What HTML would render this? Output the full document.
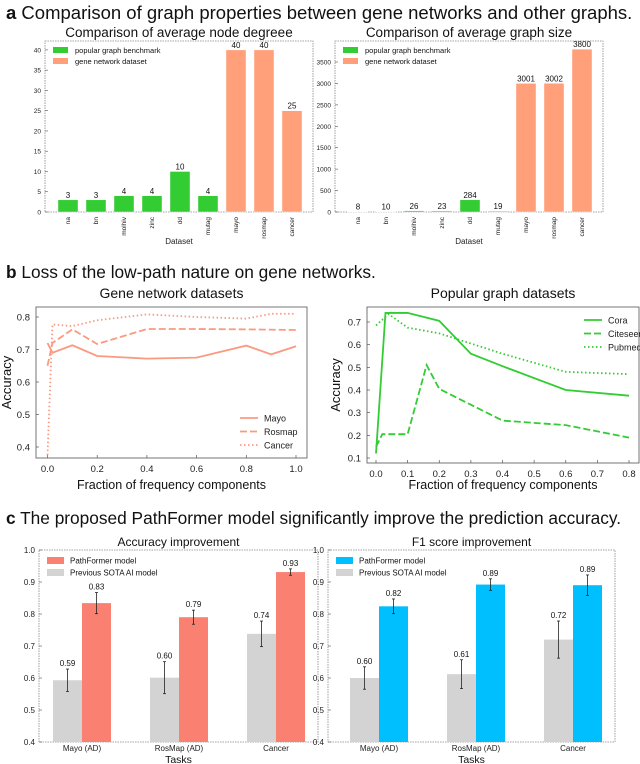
<!DOCTYPE html>
<html><head><meta charset="utf-8"><style>
body{margin:0;background:#fff}
svg{display:block;font-family:"Liberation Sans",sans-serif}
</style></head><body>
<svg id="s" width="640" height="764" viewBox="0 0 640 764">
<text x="6" y="19" font-size="18.5" fill="#111"><tspan font-weight="bold">a</tspan> Comparison of graph properties between gene networks and other graphs.</text>
<text x="6" y="278" font-size="17.3" fill="#111"><tspan font-weight="bold">b</tspan> Loss of the low-path nature on gene networks.</text>
<text x="6" y="524" font-size="17.3" fill="#111"><tspan font-weight="bold">c</tspan> The proposed PathFormer model significantly improve the prediction accuracy.</text>
</svg>
<script>
// Panel a data
const aCats=["na","bn","molhiv","zinc","dd","mutag","mayo","rosmap","cancer"];
const aDegree=[3,3,4,4,10,4,40,40,25];
const aDegreeLabels=["3","3","4","4","10","4","40","40","25"];
const aSize=[8,10,26,23,284,19,3001,3002,3800];
const aSizeLabels=["8","10","26","23","284","19","3001","3002","3800"];
const aDegTicks=[0,5,10,15,20,25,30,35,40];
const aSizeTicks=[0,500,1000,1500,2000,2500,3000,3500];
// Panel b data
const bGeneX=[0,0.2,0.4,0.6,0.8,1.0];
const bGeneY=[0.4,0.5,0.6,0.7,0.8];
const mayoX=[0,0.02,0.1,0.2,0.4,0.6,0.8,0.9,1.0];
const mayoY=[0.72,0.69,0.713,0.68,0.672,0.675,0.712,0.685,0.71];
const rosmapX=[0,0.02,0.1,0.2,0.4,0.6,0.8,1.0];
const rosmapY=[0.65,0.72,0.762,0.717,0.763,0.763,0.762,0.76];
const cancerX=[0,0.02,0.1,0.2,0.4,0.6,0.8,0.9,1.0];
const cancerY=[0.375,0.777,0.772,0.79,0.808,0.8,0.795,0.81,0.81];
const bPopX=[0,0.1,0.2,0.3,0.4,0.5,0.6,0.7,0.8];
const bPopY=[0.1,0.2,0.3,0.4,0.5,0.6,0.7];
const coraX=[0,0.03,0.1,0.2,0.3,0.4,0.6,0.8];
const coraY=[0.12,0.74,0.74,0.705,0.56,0.505,0.4,0.375];
const citeX=[0,0.02,0.1,0.16,0.2,0.3,0.4,0.6,0.8];
const citeY=[0.15,0.205,0.205,0.51,0.405,0.335,0.265,0.245,0.19];
const pubX=[0,0.04,0.1,0.2,0.3,0.4,0.6,0.8];
const pubY=[0.685,0.735,0.675,0.65,0.605,0.56,0.48,0.47];
// Panel c data
const cTasks=["Mayo (AD)","RosMap (AD)","Cancer"];
const accPrev=[0.593,0.601,0.738];
const accPrevErr=[0.035,0.05,0.04];
const accNew=[0.834,0.79,0.931];
const accNewErr=[0.033,0.022,0.01];
const accPrevLbl=["0.59","0.60","0.74"];
const accNewLbl=["0.83","0.79","0.93"];
const f1Prev=[0.60,0.612,0.72];
const f1PrevErr=[0.035,0.045,0.058];
const f1New=[0.824,0.892,0.89];
const f1NewErr=[0.023,0.018,0.032];
const f1PrevLbl=["0.60","0.61","0.72"];
const f1NewLbl=["0.82","0.89","0.89"];
const cTicks=[0.4,0.5,0.6,0.7,0.8,0.9,1.0];

const S=document.getElementById('s');
const NS="http://www.w3.org/2000/svg";
function mk(tag,at,txt){const e=document.createElementNS(NS,tag);for(const k in at)e.setAttribute(k,at[k]);if(txt!==undefined)e.textContent=txt;S.appendChild(e);return e;}
function lin(d0,d1,r0,r1){return v=>r0+(v-d0)*(r1-r0)/(d1-d0);}

// ---------- Panel a ----------
function barPanel(x0,x1,yTop,yBot,maxV,vals,lbls,ticks,title,pfx){
  const y=lin(0,maxV,yBot,yTop);
  let e=mk('rect',{x:x0,y:yTop,width:x1-x0,height:yBot-yTop,fill:'none',stroke:'#888','stroke-width':0.8,'stroke-dasharray':'1.5,1'});
  
  e=mk('text',{x:(x0+x1)/2,y:37,'font-size':13.5,'text-anchor':'middle',fill:'#111'},title);
  
  ticks.forEach(t=>{
    e=mk('text',{x:x0-4,y:y(t)+2.5,'font-size':6.5,'text-anchor':'end',fill:'#222'},String(t));
    
    mk('line',{x1:x0,x2:x0+3,y1:y(t),y2:y(t),stroke:'#555','stroke-width':0.6});
  });
  const step=28, c0=x0+23;
  aCats.forEach((c,i)=>{
    const cx=c0+step*i;
    e=mk('rect',{x:cx-10,y:y(vals[i]),width:20,height:yBot-y(vals[i]),fill:i<6?'#33cc33':'#ffa07a',stroke:'#fff','stroke-width':0.4});
    
    e=mk('text',{x:cx,y:y(vals[i])-2,'font-size':8,'text-anchor':'middle',fill:'#111'},lbls[i]);
    
    e=mk('text',{x:cx+2,y:yBot+5,'font-size':6.5,'text-anchor':'end',fill:'#222',transform:`rotate(-90 ${cx+2} ${yBot+5})`},c);
    
  });
  e=mk('text',{x:(x0+x1)/2,y:244,'font-size':8,'text-anchor':'middle',fill:'#222'},'Dataset');
  
  const lx=x0+8;
  e=mk('rect',{x:lx,y:47,width:15,height:6,fill:'#33cc33'});
  e=mk('text',{x:lx+22,y:53,'font-size':7.5,fill:'#111'},'popular graph benchmark');
  e=mk('rect',{x:lx,y:58,width:15,height:6,fill:'#ffa07a'});
  e=mk('text',{x:lx+22,y:64,'font-size':7.5,fill:'#111'},'gene network dataset');
}
barPanel(45,313,41,212,42.2,aDegree,aDegreeLabels,aDegTicks,'Comparison of average node degreee','degree');
barPanel(335,603,41,212,3990,aSize,aSizeLabels,aSizeTicks,'Comparison of average graph size','size');

// ---------- Panel b ----------
function linePanel(o){
  const x=lin(o.xd[0],o.xd[1],o.xr[0],o.xr[1]), y=lin(o.yd[0],o.yd[1],o.yr[0],o.yr[1]);
  let e=mk('rect',{x:o.box[0],y:o.box[1],width:o.box[2]-o.box[0],height:o.box[3]-o.box[1],fill:'none',stroke:'#666','stroke-width':0.9});
  
  e=mk('text',{x:(o.box[0]+o.box[2])/2,y:298,'font-size':14,'text-anchor':'middle',fill:'#111'},o.title);
  
  o.xt.forEach(t=>{
    e=mk('text',{x:x(t),y:o.box[3]+14,'font-size':9.5,'text-anchor':'middle',fill:'#222'},t.toFixed(1));
    
    mk('line',{x1:x(t),x2:x(t),y1:o.box[3],y2:o.box[3]-3,stroke:'#555','stroke-width':0.7});
  });
  o.yt.forEach(t=>{
    e=mk('text',{x:o.box[0]-6,y:y(t)+3.5,'font-size':9.5,'text-anchor':'end',fill:'#222'},t.toFixed(1));
    
    mk('line',{x1:o.box[0],x2:o.box[0]+3,y1:y(t),y2:y(t),stroke:'#555','stroke-width':0.7});
  });
  e=mk('text',{x:(o.box[0]+o.box[2])/2,y:489,'font-size':12.5,'text-anchor':'middle',fill:'#111'},'Fraction of frequency components');
  
  const ax=o.ylx, ay=(o.box[1]+o.box[3])/2;
  e=mk('text',{x:ax,y:ay,'font-size':13,'text-anchor':'middle',fill:'#111',transform:`rotate(-90 ${ax} ${ay})`},'Accuracy');
  
  const cp=`clip-${o.p}`;
  const cl=document.createElementNS(NS,'clipPath');cl.setAttribute('id',cp);
  const cr=document.createElementNS(NS,'rect');cr.setAttribute('x',o.box[0]);cr.setAttribute('y',o.box[1]);cr.setAttribute('width',o.box[2]-o.box[0]);cr.setAttribute('height',o.box[3]-o.box[1]);
  cl.appendChild(cr);S.appendChild(cl);
  o.series.forEach((s,k)=>{
    e=mk('polyline',{points:s.x.map((v,i)=>x(v)+','+y(s.y[i])).join(' '),fill:'none',stroke:o.color,'stroke-width':1.8,'stroke-dasharray':s.dash,'clip-path':`url(#${cp})`});
    
    const ly=o.ly+k*13.5;
    mk('line',{x1:o.lx,x2:o.lx+18,y1:ly,y2:ly,stroke:o.color,'stroke-width':1.8,'stroke-dasharray':s.dash});
    e=mk('text',{x:o.lx+24,y:ly+3.5,'font-size':9,fill:'#222'},s.n);
    
  });
}
linePanel({p:'gene',box:[36,307,307,458],xd:[0,1],xr:[47.5,296],yd:[0.4,0.8],yr:[447,317],xt:bGeneX,yt:bGeneY,title:'Gene network datasets',ylx:11,color:'#fa9a80',lx:240,ly:418,
  series:[{n:'Mayo',x:mayoX,y:mayoY,dash:''},{n:'Rosmap',x:rosmapX,y:rosmapY,dash:'7,3'},{n:'Cancer',x:cancerX,y:cancerY,dash:'1.5,2.5'}]});
linePanel({p:'popular',box:[367,307,639,463],xd:[0,0.8],xr:[376,629],yd:[0.1,0.7],yr:[458,322],xt:bPopX,yt:bPopY,title:'Popular graph datasets',ylx:340,color:'#33cc33',lx:584,ly:320,
  series:[{n:'Cora',x:coraX,y:coraY,dash:''},{n:'Citeseer',x:citeX,y:citeY,dash:'7,3'},{n:'Pubmed',x:pubX,y:pubY,dash:'1.5,2.5'}]});

// ---------- Panel c ----------
function cPanel(o){
  const y=lin(0.4,1.0,742,550);
  let e=mk('rect',{x:o.x0,y:550,width:o.x1-o.x0,height:192,fill:'none',stroke:'#888','stroke-width':0.8,'stroke-dasharray':'1.5,1'});
  
  e=mk('text',{x:(o.x0+o.x1)/2,y:546,'font-size':12,'text-anchor':'middle',fill:'#111'},o.title);
  
  cTicks.forEach(t=>{
    e=mk('text',{x:o.x0-4,y:y(t)+3,'font-size':8,'text-anchor':'end',fill:'#222'},t.toFixed(1));
    
    mk('line',{x1:o.x0,x2:o.x0+3,y1:y(t),y2:y(t),stroke:'#555','stroke-width':0.6});
  });
  cTasks.forEach((c,i)=>{
    const cx=o.c0+97*i;
    [[o.prev,o.pe,o.pl,'#d3d3d3',-29,'prev'],[o.nw,o.ne,o.nl,o.color,0,'new']].forEach(([v,er,lb,col,dx,nm])=>{
      e=mk('rect',{x:cx+dx,y:y(v[i]),width:29,height:742-y(v[i]),fill:col});
      
      const ex=cx+dx+14.5, t=y(v[i]+er[i]), b=y(v[i]-er[i]);
      mk('line',{x1:ex,x2:ex,y1:t,y2:b,stroke:'#222','stroke-width':0.8});
      mk('line',{x1:ex-1.5,x2:ex+1.5,y1:t,y2:t,stroke:'#222','stroke-width':0.8});
      mk('line',{x1:ex-1.5,x2:ex+1.5,y1:b,y2:b,stroke:'#222','stroke-width':0.8});
      e=mk('text',{x:ex,y:t-3,'font-size':8,'text-anchor':'middle',fill:'#111'},lb[i]);
      
    });
    e=mk('text',{x:cx,y:751,'font-size':8,'text-anchor':'middle',fill:'#222'},c);
    
  });
  e=mk('text',{x:(o.x0+o.x1)/2,y:763,'font-size':10.5,'text-anchor':'middle',fill:'#111'},'Tasks');
  
  e=mk('rect',{x:o.x0+8,y:557,width:17,height:7,fill:o.color});
  e=mk('text',{x:o.x0+31,y:563.5,'font-size':8,fill:'#111'},'PathFormer model');
  e=mk('rect',{x:o.x0+8,y:569,width:17,height:7,fill:'#d3d3d3'});
  e=mk('text',{x:o.x0+31,y:575.5,'font-size':8,fill:'#111'},'Previous SOTA AI model');
}
cPanel({p:'accuracy',x0:39,x1:318,c0:82,title:'Accuracy improvement',color:'#fa8072',prev:accPrev,pe:accPrevErr,pl:accPrevLbl,nw:accNew,ne:accNewErr,nl:accNewLbl});
cPanel({p:'f1',x0:328,x1:615,c0:379,title:'F1 score improvement',color:'#00bfff',prev:f1Prev,pe:f1PrevErr,pl:f1PrevLbl,nw:f1New,ne:f1NewErr,nl:f1NewLbl});
</script>
</body></html>
